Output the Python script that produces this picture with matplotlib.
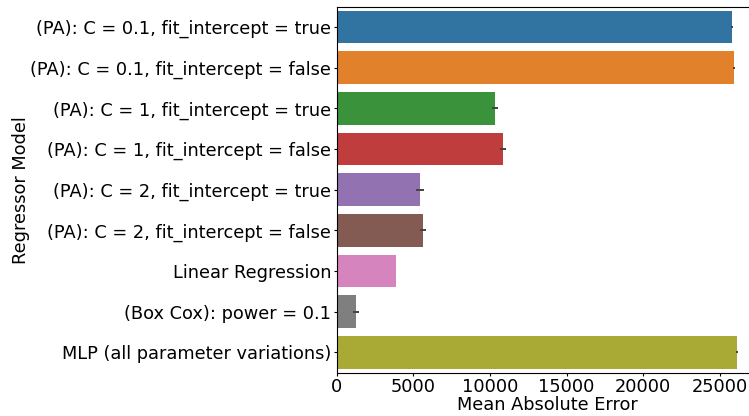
import matplotlib
matplotlib.use("Agg")
import matplotlib.pyplot as plt
import numpy as np

models = [
    "(PA): C = 0.1, fit_intercept = true",
    "(PA): C = 0.1, fit_intercept = false",
    "(PA): C = 1, fit_intercept = true",
    "(PA): C = 1, fit_intercept = false",
    "(PA): C = 2, fit_intercept = true",
    "(PA): C = 2, fit_intercept = false",
    "Linear Regression",
    "(Box Cox): power = 0.1",
    "MLP (all parameter variations)",
]
mae = [25800, 25900, 10320, 10840, 5430, 5630, 3870, 1260, 26100]
mae_err = [60, 60, 170, 190, 260, 220, 20, 170, 40]

colors = ["#3274a1", "#e1812c", "#3a923a", "#c03d3e", "#9372b2",
          "#845b53", "#d684bd", "#7f7f7f", "#a9aa35"]

fig = plt.figure(figsize=(7.49, 4.16), dpi=100)
ax = fig.add_axes([0.4495, 0.1043, 0.563, 0.8796])

y = np.arange(len(models))
ax.barh(y, mae, height=0.8, color=colors)
ax.errorbar(mae, y, xerr=mae_err, fmt="none", ecolor="#424242", elinewidth=1.4)

ax.set_ylim(len(models) - 0.5, -0.5)
ax.set_xlim(0, 27500)
ax.set_yticks(y)
ax.set_yticklabels(models)
ax.set_xticks([0, 5000, 10000, 15000, 20000, 25000])
ax.tick_params(labelsize=12.75, length=2.5, pad=1.5)
ax.set_xlabel("Mean Absolute Error", fontsize=12.75, labelpad=0)
ax.set_ylabel("Regressor Model", fontsize=12.75, labelpad=0)
ax.spines["right"].set_visible(False)

fig.savefig("out.png", dpi=100)
